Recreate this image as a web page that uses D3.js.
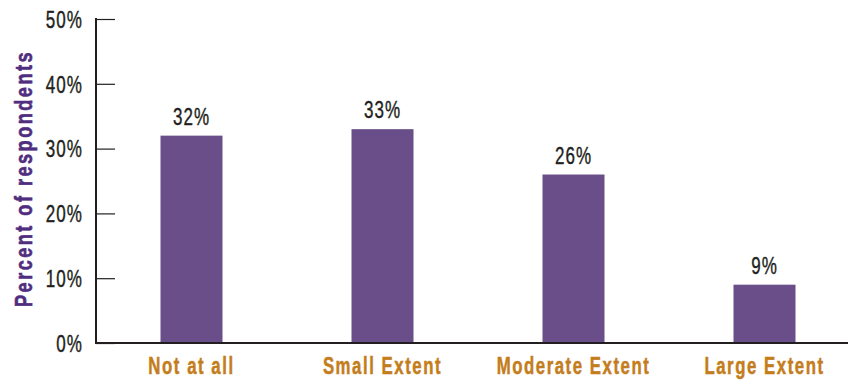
<!DOCTYPE html>
<html>
<head>
<meta charset="utf-8">
<script src="https://cdn.jsdelivr.net/npm/d3@7/dist/d3.min.js"></script>
<style>
  html, body { margin: 0; padding: 0; background: #fff; }
  svg text { font-family: "Liberation Sans", Arial, sans-serif; }
</style>
</head>
<body>
<svg id="chart" width="848" height="383"></svg>
<script>
// Share of respondents by extent
const categories = ["Not at all", "Small Extent", "Moderate Extent", "Large Extent"];
const values = [32, 33, 26, 9];
const valueLabels = ["32%", "33%", "26%", "9%"];
const yTicks = [0, 10, 20, 30, 40, 50];
const yTickLabels = ["0%", "10%", "20%", "30%", "40%", "50%"];

const svg = d3.select("#chart");
const plotLeft = 96, plotRight = 860, plotTop = 19, plotBottom = 343;
const barWidth = 62;
const ink = "#231f20";

// Narrow the glyphs horizontally to get a condensed face
function condense(sel, sx) {
  sel.each(function () {
    const t = d3.select(this);
    const px = +t.attr("x") || 0;
    t.attr("x", px / sx).attr("transform", `scale(${sx},1)`);
  });
}

const x = d3.scaleBand().domain(categories).range([plotLeft, plotRight]).padding(0);
const y = d3.scaleLinear().domain([0, 50]).range([plotBottom, plotTop]);

// Bars
svg.append("g").selectAll("rect")
  .data(categories)
  .join("rect")
  .attr("x", d => x(d) + x.bandwidth() / 2 - barWidth / 2)
  .attr("y", (d, i) => y(values[i]))
  .attr("width", barWidth)
  .attr("height", (d, i) => y(0) - y(values[i]))
  .attr("fill", "#694e89");

// Value labels above bars
const vl = svg.append("g").selectAll("text")
  .data(categories)
  .join("text")
  .attr("x", d => x(d) + x.bandwidth() / 2)
  .attr("y", (d, i) => y(values[i]) - 11)
  .attr("text-anchor", "middle")
  .attr("font-size", 23)
  .attr("letter-spacing", 1.4)
  .attr("fill", ink)
  .attr("stroke", ink)
  .attr("stroke-width", 0.4)
  .text((d, i) => valueLabels[i]);
condense(vl, 0.74);

// Y axis with ticks pointing into the plot
const yAxis = d3.axisRight(y)
  .tickValues(yTicks)
  .tickFormat((d, i) => yTickLabels[i])
  .tickSize(19)
  .tickPadding(0);
const gy = svg.append("g").attr("transform", `translate(${plotLeft},0)`).call(yAxis);
gy.select(".domain").remove();
gy.selectAll(".tick line").attr("stroke", ink).attr("stroke-width", 1.2);
const yt = gy.selectAll(".tick text")
  .attr("x", -13)
  .attr("text-anchor", "end")
  .attr("dy", "0.36em")
  .attr("font-size", 23)
  .attr("letter-spacing", 1.4)
  .attr("fill", ink)
  .attr("stroke", ink)
  .attr("stroke-width", 0.4);
condense(yt, 0.74);
svg.append("line")
  .attr("x1", plotLeft).attr("x2", plotLeft)
  .attr("y1", plotTop - 1).attr("y2", plotBottom + 1)
  .attr("stroke", ink).attr("stroke-width", 2);

// X axis baseline and category labels
const xAxis = d3.axisBottom(x).tickSize(0).tickPadding(0);
const gx = svg.append("g").attr("transform", `translate(0,${plotBottom})`).call(xAxis);
gx.select(".domain").remove();
const xt = gx.selectAll(".tick text")
  .attr("y", 31)
  .attr("dy", 0)
  .attr("font-size", 24)
  .attr("font-weight", "bold")
  .attr("letter-spacing", 2.2)
  .attr("fill", "#c47d1c")
  .attr("stroke", "#c47d1c")
  .attr("stroke-width", 0.5);
condense(xt, 0.7);
svg.append("line")
  .attr("x1", plotLeft - 1).attr("x2", 848)
  .attr("y1", plotBottom).attr("y2", plotBottom)
  .attr("stroke", ink).attr("stroke-width", 2.2);

// Y axis title
svg.append("text")
  .attr("transform", `translate(32,178.5) rotate(-90) scale(0.76,1)`)
  .attr("text-anchor", "middle")
  .attr("font-size", 24)
  .attr("font-weight", "bold")
  .attr("letter-spacing", 3.2)
  .attr("fill", "#4f2d7f")
  .attr("stroke", "#4f2d7f")
  .attr("stroke-width", 0.6)
  .text("Percent of respondents");
</script>
</body>
</html>
